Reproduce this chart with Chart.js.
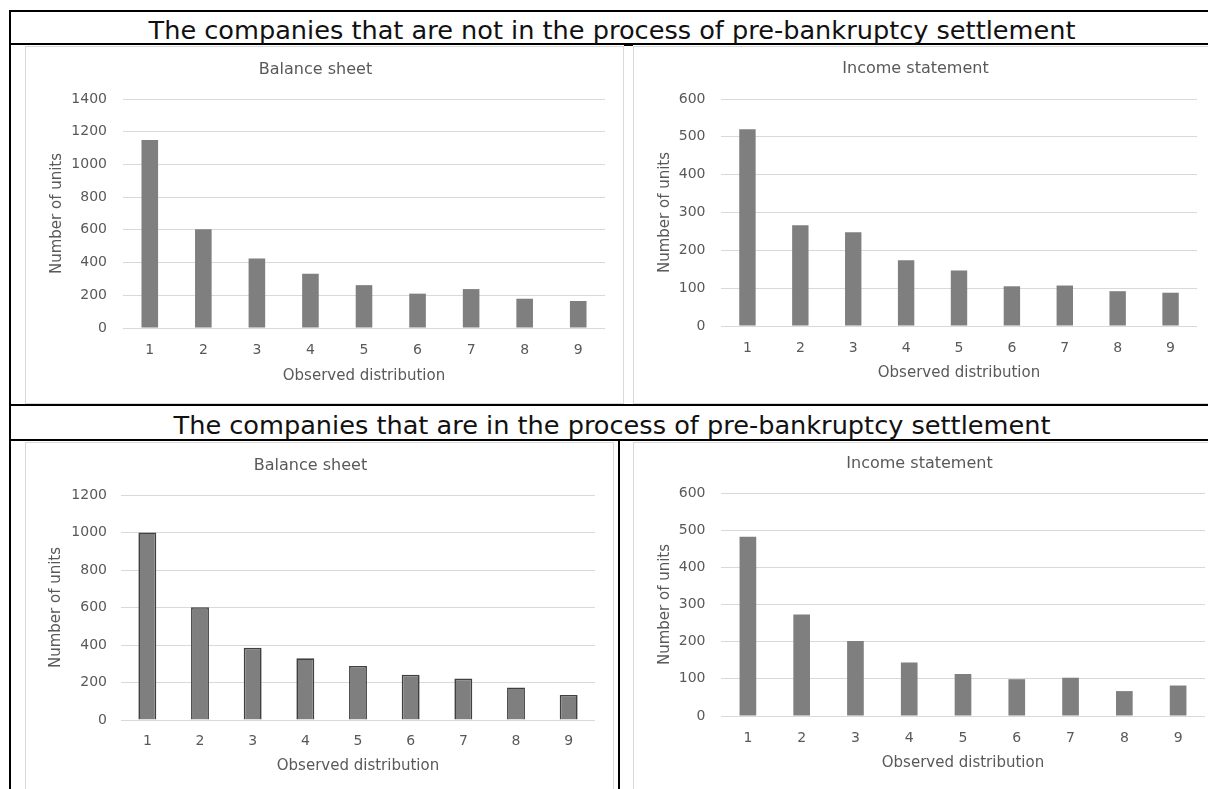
<!DOCTYPE html>
<html lang="en">
<head>
  <meta charset="UTF-8" />
  <title>Observed distribution - pre-bankruptcy settlement</title>
  <script src="https://cdn.jsdelivr.net/npm/chart.js"></script>
  <style>
    html, body { margin: 0; padding: 0; background: #fff; width: 1208px; height: 789px; overflow: hidden; }
    .line { position: absolute; background: #000; }
    .head { position: absolute; left: 11px; width: 1202px; text-align: center; white-space: nowrap;
            font-family: "DejaVu Sans"; font-size: 25.6px; line-height: 32px; color: #111; }
    .box { position: absolute; border: 1px solid #d9d9d9; }
    .box canvas { display: block; }
  </style>
</head>
<body>

  <!-- table borders -->
  <div class="line" style="left:9px; top:10px; width:1210px; height:2px;"></div>
  <div class="line" style="left:9px; top:10px; width:2px; height:800px;"></div>
  <div class="line" style="left:9px; top:43px; width:1210px; height:2px;"></div>
  <div class="line" style="left:624px; top:43px; width:9px; height:3px;"></div>
  <div class="line" style="left:9px; top:404px; width:1210px; height:2px;"></div>
  <div class="line" style="left:9px; top:439px; width:1210px; height:2px;"></div>
  <div class="line" style="left:618px; top:440px; width:2px; height:360px;"></div>

  <div class="head" style="top:14px;">The companies that are not in the process of pre-bankruptcy settlement</div>
  <div class="head" style="top:409px;">The companies that are in the process of pre-bankruptcy settlement</div>

  <!-- chart boxes -->
  <div class="box" style="left:25px; top:46px;"><canvas id="notBalance" width="597" height="356"></canvas></div>
  <div class="box" style="left:633px; top:46px;"><canvas id="notIncome" width="582" height="356"></canvas></div>
  <div class="box" style="left:25px; top:442px;"><canvas id="inBalance" width="587" height="356"></canvas></div>
  <div class="box" style="left:633px; top:442px;"><canvas id="inIncome" width="588" height="356"></canvas></div>

  <script>
    // data
    const categories = ['1', '2', '3', '4', '5', '6', '7', '8', '9'];
    const notBalanceValues = [1150, 604, 425, 332, 262, 210, 238, 179, 165];
    const notIncomeValues = [520, 266, 248, 174, 147, 105, 107, 92, 88];
    const inBalanceValues = [1000, 602, 385, 329, 288, 242, 221, 174, 134];
    const inIncomeValues = [482, 273, 202, 144, 113, 99, 103, 67, 82];
    const chartTitles = ['Balance sheet', 'Income statement', 'Balance sheet', 'Income statement'];
    const yMax = [1400, 600, 1200, 600];
    const yStep = [200, 100, 200, 100];
    const xAxisTitle = 'Observed distribution';
    const yAxisTitle = 'Number of units';

    Chart.defaults.font.family = '"DejaVu Sans"';
    Chart.defaults.color = '#595959';

    // sizes of the pieces around each plot area
    const layouts = [
      { right: 18, yWidth: 97, xHeight: 75, titleTop: 13.4, titleBottom: 19.4, yTitlePad: 22, xTitlePad: 18, xTickPad: 14, yTickPad: 16 },
      { right: 19, yWidth: 87, xHeight: 77, titleTop: 12.4, titleBottom: 20.4, yTitlePad: 22, xTitlePad: 21, xTickPad: 13.6, yTickPad: 15.5 },
      { right: 18, yWidth: 95, xHeight: 79, titleTop: 13.4, titleBottom: 19.4, yTitlePad: 21, xTitlePad: 24, xTickPad: 12.6, yTickPad: 14 },
      { right: 17, yWidth: 87, xHeight: 83, titleTop: 11.4, titleBottom: 19.4, yTitlePad: 22, xTitlePad: 27, xTickPad: 13.6, yTickPad: 15.5 }
    ];

    function drawBars(id, values, i, outlined) {
      const L = layouts[i];
      new Chart(document.getElementById(id), {
        type: 'bar',
        data: {
          labels: categories,
          datasets: [{
            data: values,
            backgroundColor: '#7f7f7f',
            borderColor: outlined ? '#404040' : '#7f7f7f',
            borderWidth: outlined ? 1.6 : 0,
            barPercentage: outlined ? 0.34 : 0.31,
            categoryPercentage: 1
          }]
        },
        options: {
          responsive: false,
          animation: false,
          devicePixelRatio: 1,
          layout: { padding: { left: 0, top: 0, bottom: 0, right: L.right } },
          plugins: {
            legend: { display: false },
            tooltip: { enabled: false },
            title: {
              display: true,
              text: chartTitles[i],
              color: '#595959',
              font: { size: 16, weight: 'normal' },
              padding: { top: L.titleTop, bottom: L.titleBottom }
            }
          },
          scales: {
            x: {
              grid: { display: false, drawTicks: false },
              border: { display: false },
              ticks: { padding: L.xTickPad, font: { size: 14 }, color: '#595959' },
              title: { display: true, text: xAxisTitle, font: { size: 15 }, color: '#595959', padding: { top: 0, bottom: L.xTitlePad } },
              afterFit: s => { s.height = L.xHeight; }
            },
            y: {
              min: 0,
              max: yMax[i],
              grid: { color: '#d9d9d9', lineWidth: 1, drawTicks: false },
              border: { display: false },
              ticks: { stepSize: yStep[i], padding: L.yTickPad, font: { size: 14 }, color: '#595959', callback: v => String(v) },
              title: { display: true, text: yAxisTitle, font: { size: 15 }, color: '#595959', padding: { top: L.yTitlePad, bottom: 0 } },
              afterFit: s => { s.width = L.yWidth; }
            }
          }
        }
      });
    }

    drawBars('notBalance', notBalanceValues, 0, false);
    drawBars('notIncome', notIncomeValues, 1, false);
    drawBars('inBalance', inBalanceValues, 2, true);
    drawBars('inIncome', inIncomeValues, 3, false);
  </script>
</body>
</html>
